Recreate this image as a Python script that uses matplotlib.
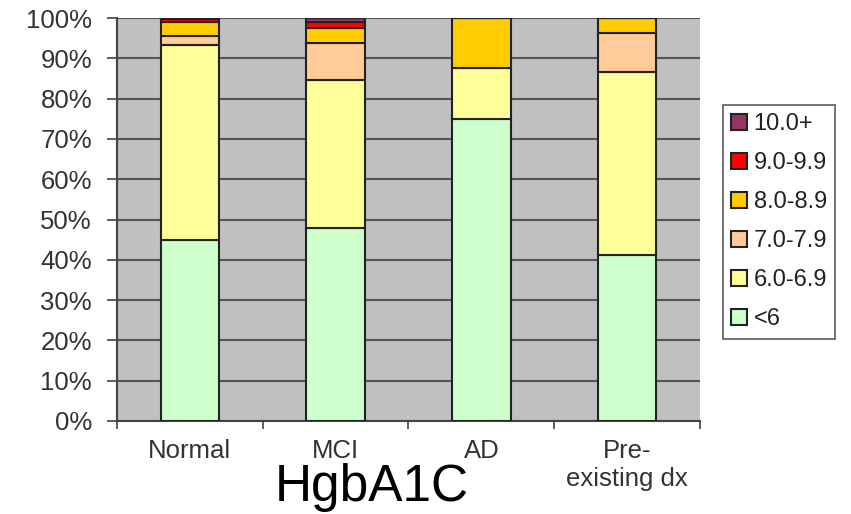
import matplotlib.pyplot as plt
import numpy as np

plt.rcParams['font.family'] = ['Liberation Sans', 'DejaVu Sans']

groups = ['Normal', 'MCI', 'AD', 'Pre-\nexisting dx']
levels = ['<6', '6.0-6.9', '7.0-7.9', '8.0-8.9', '9.0-9.9', '10.0+']
colors = ['#CCFFCC', '#FFFF99', '#FFCC99', '#FFCC00', '#FF0000', '#993366']

# percent of each group in each HgbA1C band (bottom to top)
lt6 = [45.0, 48.0, 75.0, 41.2]
a6 = [48.4, 36.5, 12.5, 45.4]
a7 = [2.1, 9.4, 0.0, 9.8]
a8 = [3.5, 3.5, 12.5, 3.6]
a9 = [0.7, 1.6, 0.0, 0.0]
a10 = [0.3, 1.0, 0.0, 0.0]
series = [lt6, a6, a7, a8, a9, a10]

fig = plt.figure(figsize=(8.51, 5.14), dpi=100)
ax = fig.add_axes([117/851, 93/514, 583/851, 403/514])
ax.set_facecolor('#C0C0C0')

x = np.arange(len(groups))
bottom = np.zeros(len(groups))
bars = []
for vals, lab, c in zip(series, levels, colors):
    b = ax.bar(x, vals, 0.4, bottom=bottom, color=c, edgecolor='#222222',
               linewidth=1.5, label=lab, zorder=3)
    bars.append(b)
    bottom += np.array(vals)

ax.set_xlim(-0.5, 3.5)
ax.set_ylim(0, 100)
ax.set_yticks(np.arange(0, 101, 10))
ax.set_yticklabels([f'{v}%' for v in range(0, 101, 10)], fontsize=18.5, color='#333333')
ax.yaxis.grid(True, color='#555555', linewidth=1.5, zorder=0)
ax.set_axisbelow(True)

ax.set_xticks(x)
ax.set_xticklabels(groups, fontsize=18.5, color='#333333', linespacing=1.2)
ax.set_xticks(np.arange(-0.5, 4, 1), minor=True)
ax.tick_params(axis='x', which='major', length=0, pad=13)
ax.tick_params(axis='x', which='minor', length=6, width=1.2, color='#444444')
ax.tick_params(axis='y', length=7, width=1.2, color='#444444', pad=11)

for s in ['top', 'right']:
    ax.spines[s].set_visible(False)
for s in ['left', 'bottom']:
    ax.spines[s].set_color('#444444')
    ax.spines[s].set_linewidth(1.5)

# legend listed top band first, like the stack
handles = [b[0] for b in bars][::-1]
leg = fig.legend(handles, levels[::-1], loc='upper left',
                 bbox_to_anchor=(723/851, 1 - 105/514), borderaxespad=0,
                 fontsize=17, frameon=True, fancybox=False, edgecolor='#333333',
                 handlelength=0.65, handleheight=0.65, handletextpad=0.3,
                 labelspacing=0.72, borderpad=0.35, labelcolor='#222222')
leg.get_frame().set_linewidth(1.2)

fig.text(372/851, 1 - 488/514, 'HgbA1C', fontsize=37, ha='center', va='center')

fig.savefig('out.png', dpi=100)
